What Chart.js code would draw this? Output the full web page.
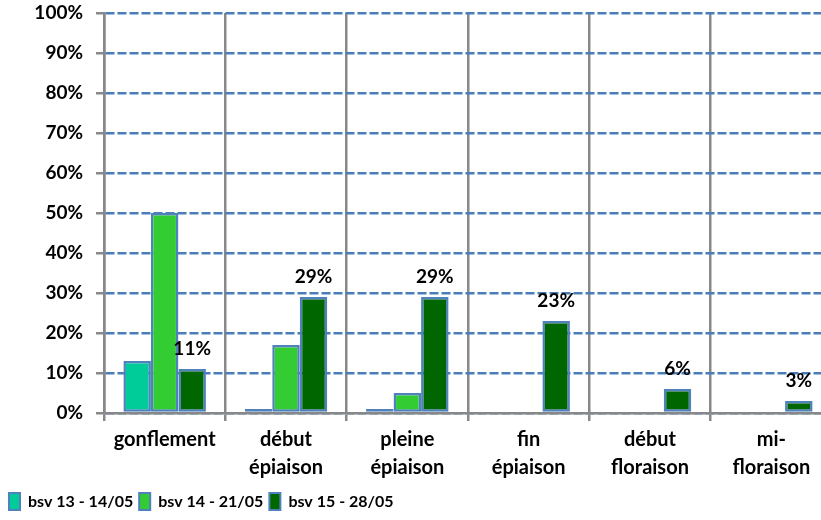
<!DOCTYPE html>
<html>
<head>
<meta charset="utf-8">
<script src="https://cdn.jsdelivr.net/npm/chart.js@4"></script>
<style>
  html, body { margin: 0; padding: 0; background: #fff; overflow: hidden; }
  #wrap { width: 834px; height: 520px; }
</style>
</head>
<body>
<div id="wrap"><canvas id="chartStades"></canvas></div>
<script>
// Stades phénologiques par BSV
const categories = [
    ['gonflement'],
    ['début', 'épiaison'],
    ['pleine', 'épiaison'],
    ['fin', 'épiaison'],
    ['début', 'floraison'],
    ['mi-', 'floraison']
];
const seriesLabels = ['bsv 13 - 14/05', 'bsv 14 - 21/05', 'bsv 15 - 28/05'];
const bsv13 = [13, 1, 1, 0, 0, 0];
const bsv14 = [50, 17, 5, 0, 0, 0];
const bsv15 = [11, 29, 29, 23, 6, 3];
const yTicks = [0, 10, 20, 30, 40, 50, 60, 70, 80, 90, 100];

const couleurs = ['#00CC99', '#33CC33', '#006600'];
const bordure = '#4F81BD';
const police = 'Lato, "Open Sans", sans-serif';

// étiquettes de valeurs au-dessus des barres de la dernière série
const etiquettes = {
    id: 'etiquettes',
    afterDatasetsDraw(chart) {
        const ctx = chart.ctx;
        const meta = chart.getDatasetMeta(2);
        ctx.save();
        ctx.font = 'bold 19px ' + police;
        ctx.fillStyle = '#000';
        ctx.textAlign = 'center';
        ctx.textBaseline = 'middle';
        meta.data.forEach((bar, i) => {
            ctx.fillText(bsv15[i] + '%', bar.x, bar.y - 20);
        });
        ctx.restore();
    }
};

const ctx = document.getElementById('chartStades').getContext('2d');
new Chart(ctx, {
    type: 'bar',
    data: {
        labels: categories,
        datasets: [bsv13, bsv14, bsv15].map((d, i) => ({
            label: seriesLabels[i],
            data: d,
            backgroundColor: couleurs[i],
            borderColor: bordure,
            borderWidth: 2.5,
            borderSkipped: false,
            categoryPercentage: 0.68,
            barPercentage: 1
        }))
    },
    options: {
        responsive: true,
        maintainAspectRatio: false,
        animation: false,
        layout: { padding: { top: 13, right: 2, left: 3, bottom: 0 } },
        plugins: {
            tooltip: { enabled: false },
            legend: {
                display: true,
                position: 'bottom',
                align: 'start',
                labels: {
                    boxWidth: 11,
                    boxHeight: 17,
                    padding: 6,
                    color: '#000',
                    font: { family: police, size: 16, weight: 'bold' },
                    generateLabels(chart) {
                        return chart.data.datasets.map((ds, i) => ({
                            text: ds.label,
                            fillStyle: couleurs[i],
                            strokeStyle: bordure,
                            lineWidth: 2,
                            datasetIndex: i
                        }));
                    }
                }
            }
        },
        scales: {
            x: {
                grid: {
                    offset: true,
                    color: '#888',
                    lineWidth: 2.5,
                    tickLength: 8,
                    tickColor: '#888'
                },
                border: { color: '#888', width: 2.5 },
                ticks: {
                    color: '#000',
                    font: { family: police, size: 20, weight: 'bold', lineHeight: 1.4 },
                    maxRotation: 0,
                    padding: 5
                }
            },
            y: {
                min: 0,
                max: 100,
                afterBuildTicks(axis) {
                    axis.ticks = yTicks.map(v => ({ value: v }));
                },
                afterFit(axis) {
                    axis.width = 101;
                    axis.paddingTop = 0;
                    axis.paddingBottom = 0;
                },
                grid: {
                    color: '#4A7EBB',
                    lineWidth: 2.5,
                    tickLength: 8,
                    tickColor: '#888'
                },
                border: { color: '#888', width: 2.5, dash: [9, 3] },
                ticks: {
                    color: '#000',
                    font: { family: police, size: 19, weight: 'bold' },
                    padding: 13,
                    callback: v => v + '%'
                }
            }
        }
    },
    plugins: [etiquettes]
});
</script>
</body>
</html>
